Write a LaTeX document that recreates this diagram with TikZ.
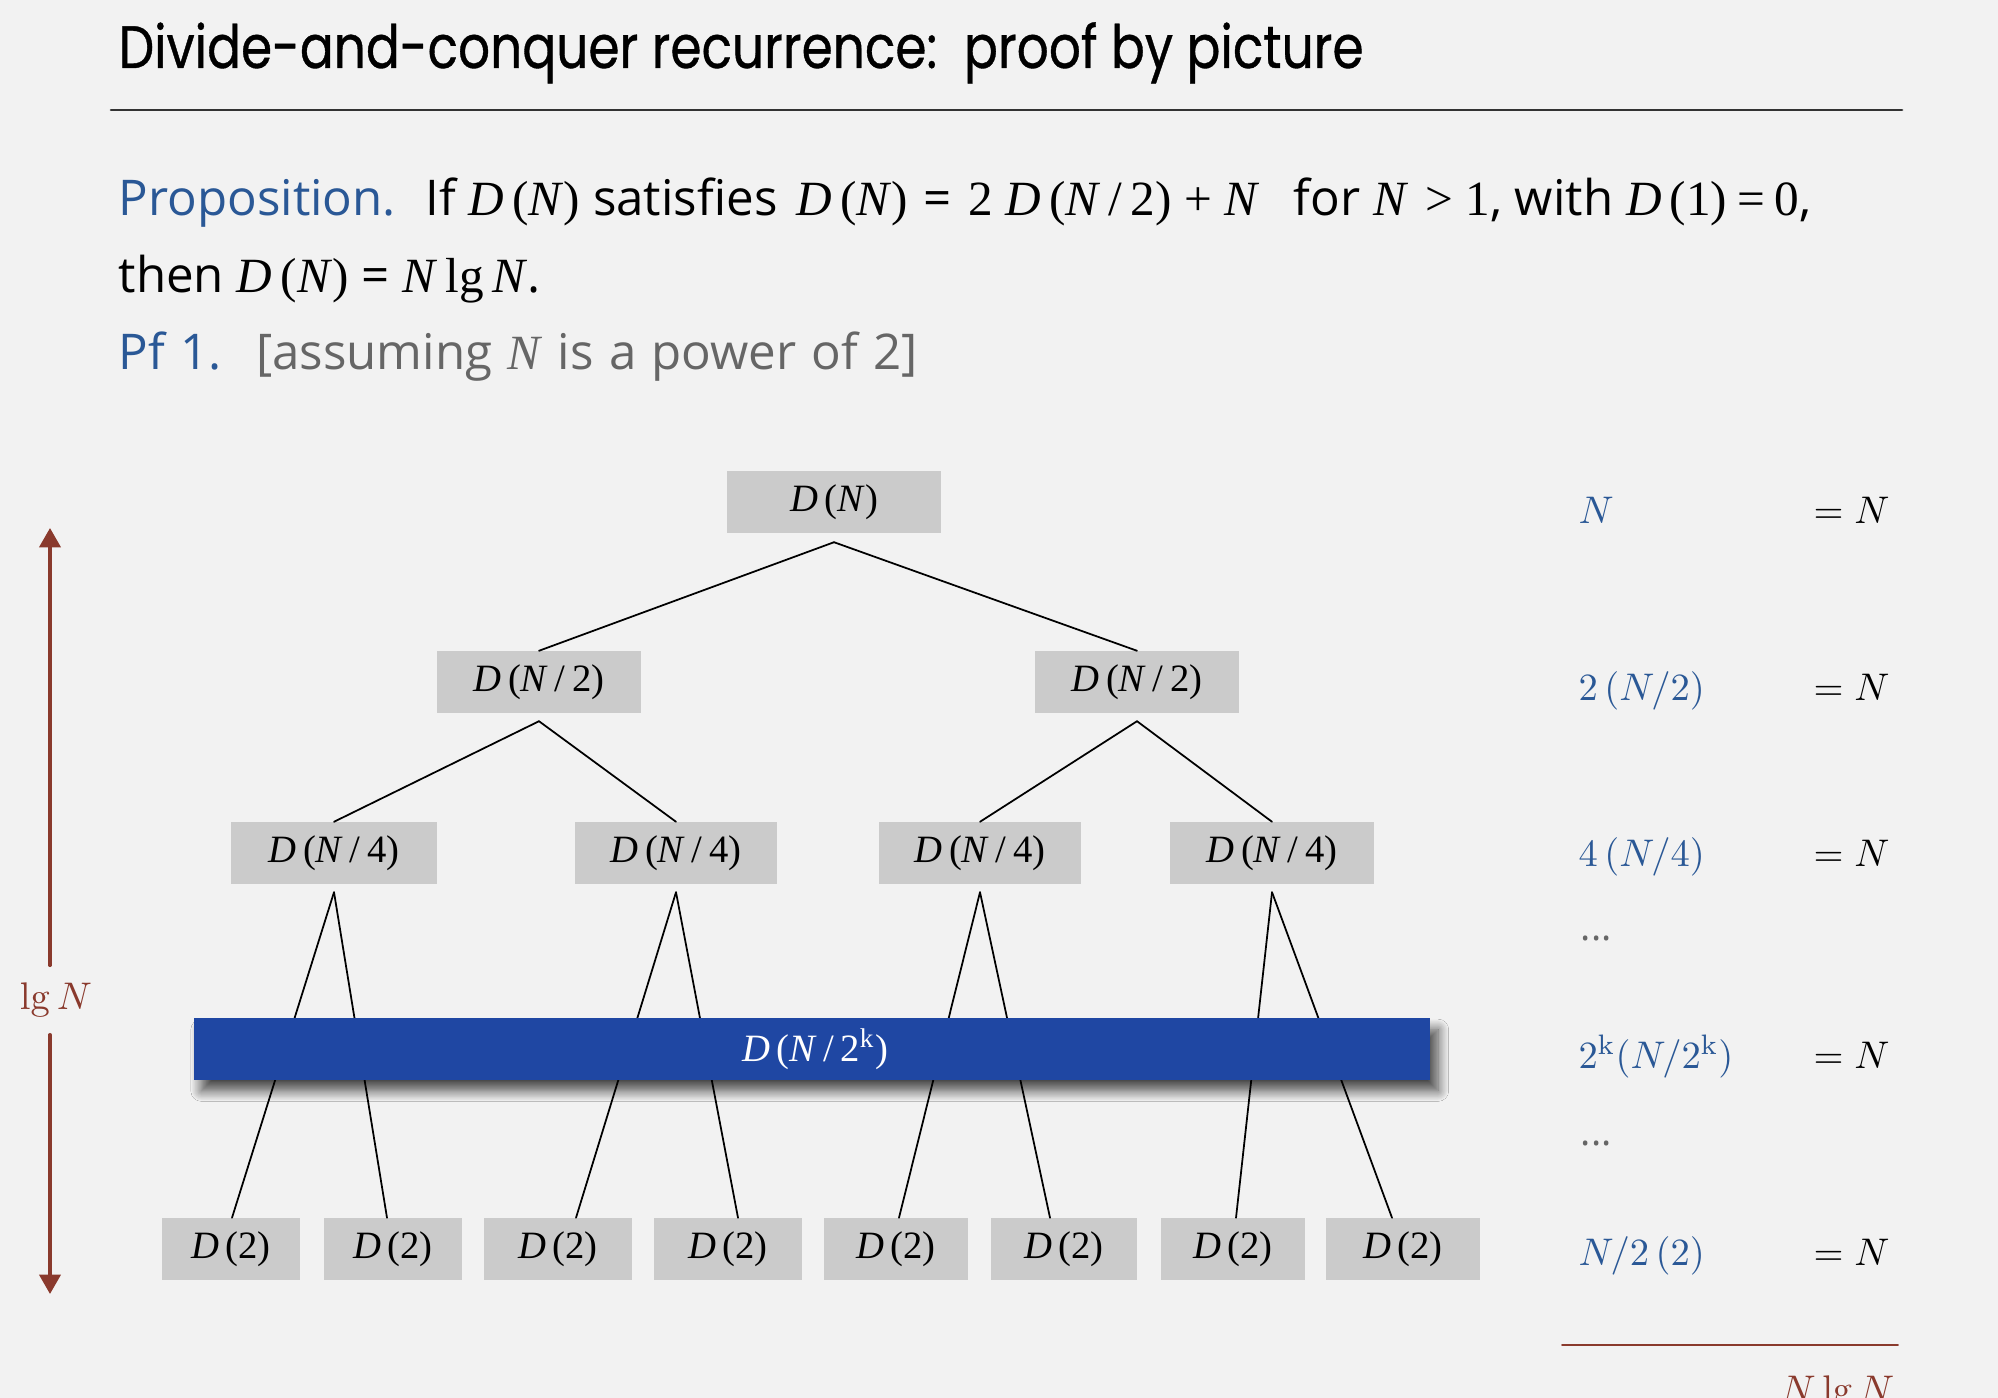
\documentclass[tikz,border=0pt]{standalone}
\usepackage[no-math]{fontspec}
\setmainfont{Open Sans}
\newfontfamily\titlefont[FakeStretch=0.84,FakeBold=0.6]{Poppins}
\newfontfamily\tms{Liberation Serif}
\usetikzlibrary{calc,arrows.meta,shadows.blur}

\definecolor{bgcol}{HTML}{F2F2F2}
\definecolor{boxgray}{HTML}{CBCBCB}
\definecolor{barblue}{HTML}{1F47A3}
\definecolor{textblue}{HTML}{2A5896}
\definecolor{brownred}{HTML}{8A3A2D}
\definecolor{textgray}{HTML}{666666}

\newcommand{\tv}[1]{\textit{#1}}
\newcommand{\Dof}[1]{{\tms\tv{D}\,(#1)}}
\newcommand{\vm}[1]{{\tms\fontsize{14}{16}\selectfont #1}}

\tikzset{
	callbox/.style={fill=boxgray, minimum height=0.61cm, inner sep=0pt, font=\fontsize{11}{13}\selectfont\tms},
	textline/.style={anchor=base west, inner sep=0pt, font=\fontsize{14}{16}\selectfont},
	sumterm/.style={anchor=base west, inner sep=0pt, text=textblue, font=\fontsize{11}{13}\selectfont},
	sumeq/.style={anchor=base west, inner sep=0pt, font=\fontsize{10.5}{13}\selectfont},
	edge/.style={line width=0.5pt},
}

\begin{document}
\begin{tikzpicture}[x=0.01cm, y=-0.01cm, line join=round, line cap=round]
	\useasboundingbox (0,0) rectangle (1998,1398);
	\fill[bgcol] (0,0) rectangle (1998,1398);

	% title and statement
	\node[anchor=base west, inner sep=0pt, font=\titlefont\fontsize{17}{20}\selectfont] (title) at (118,68) {Divide-and-conquer recurrence:\ \ proof by picture};
	\draw[line width=0.75pt, black!80] (111,110) -- (1902,110);
	\node[textline] (prop) at (118,216) {\textcolor{textblue}{Proposition.}\hspace{0.6em}If \vm{\Dof{\tv{N}}} satisfies};
	\node[textline] (recur) at (796,216) {\vm{\Dof{\tv{N}}}\hspace{0.3em}=\hspace{0.35em}\vm{2\hspace{0.25em}\Dof{\tv{N}\,/\,2}\hspace{0.25em}+\hspace{0.25em}\tv{N}}};
	\node[textline] (cond) at (1293,216) {for \vm{\tv{N}\hspace{0.35em}>\hspace{0.25em}1}, with \vm{\Dof{1}\hspace{0.2em}=\hspace{0.2em}0},};
	\node[textline] (then) at (118,293) {then \Dof{\tv{N}} = {\tms\tv{N}\,lg\,\tv{N}}.};
	\node[textline] (pf) at (118,370) {\spaceskip=0.31em\relax\textcolor{textblue}{Pf 1.}\hspace{0.7em}\textcolor{textgray}{[assuming {\tms\tv{N}} is a power of 2]}};

	% recursion tree
	\node[callbox, minimum width=2.13cm] (root) at (834,502) {\Dof{\tv{N}}};
	\node[callbox, minimum width=2.03cm] (half1) at (539,682) {\Dof{\tv{N}\,/\,2}};
	\node[callbox, minimum width=2.03cm] (half2) at (1137,682) {\Dof{\tv{N}\,/\,2}};
	\node[callbox, minimum width=2.06cm] (quar1) at (334,853) {\Dof{\tv{N}\,/\,4}};
	\node[callbox, minimum width=2.02cm] (quar2) at (676,853) {\Dof{\tv{N}\,/\,4}};
	\node[callbox, minimum width=2.01cm] (quar3) at (980,853) {\Dof{\tv{N}\,/\,4}};
	\node[callbox, minimum width=2.03cm] (quar4) at (1272,853) {\Dof{\tv{N}\,/\,4}};
	\node[callbox, minimum width=1.38cm] (leaf1) at (231,1249) {\Dof{2}};
	\node[callbox, minimum width=1.38cm] (leaf2) at (393,1249) {\Dof{2}};
	\node[callbox, minimum width=1.47cm] (leaf3) at (558,1249) {\Dof{2}};
	\node[callbox, minimum width=1.47cm] (leaf4) at (728,1249) {\Dof{2}};
	\node[callbox, minimum width=1.44cm] (leaf5) at (896,1249) {\Dof{2}};
	\node[callbox, minimum width=1.45cm] (leaf6) at (1064,1249) {\Dof{2}};
	\node[callbox, minimum width=1.44cm] (leaf7) at (1233,1249) {\Dof{2}};
	\node[callbox, minimum width=1.53cm] (leaf8) at (1403,1249) {\Dof{2}};

	\draw[edge] ($(root.south)+(0,9)$) -- (half1.north);
	\draw[edge] ($(root.south)+(0,9)$) -- (half2.north);
	\draw[edge] ($(half1.south)+(0,8)$) -- (quar1.north);
	\draw[edge] ($(half1.south)+(0,8)$) -- (quar2.north);
	\draw[edge] ($(half2.south)+(0,8)$) -- (quar3.north);
	\draw[edge] ($(half2.south)+(0,8)$) -- (quar4.north);
	\draw[edge] ($(quar1.south)+(0,8)$) -- ($(leaf1.north)+(1,0)$);
	\draw[edge] ($(quar1.south)+(0,8)$) -- ($(leaf2.north)+(-6,0)$);
	\draw[edge] ($(quar2.south)+(0,8)$) -- ($(leaf3.north)+(18,0)$);
	\draw[edge] ($(quar2.south)+(0,8)$) -- ($(leaf4.north)+(10,0)$);
	\draw[edge] ($(quar3.south)+(0,8)$) -- ($(leaf5.north)+(3,0)$);
	\draw[edge] ($(quar3.south)+(0,8)$) -- ($(leaf6.north)+(-14,0)$);
	\draw[edge] ($(quar4.south)+(0,8)$) -- ($(leaf7.north)+(3,0)$);
	\draw[edge] ($(quar4.south)+(0,8)$) -- ($(leaf8.north)+(-11,0)$);

	% level k
	\node[fill=barblue, text=white, minimum width=12.36cm, minimum height=0.61cm, inner sep=0pt, font=\fontsize{11}{13}\selectfont\tms,
		blur shadow={shadow xshift=2.2pt, shadow yshift=-3.2pt, shadow blur radius=3pt, shadow blur steps=12, shadow opacity=70}] (levelk) at (812,1049) {\hspace{0.06cm}\Dof{\tv{N}\,/\,2\textsuperscript{k}}};

	% height
	\coordinate (htop) at (50,528);
	\coordinate (hbot) at (50,1294);
	\node[text=brownred, minimum height=0.68cm, inner sep=0pt, font=\fontsize{11}{13}\selectfont] (height) at (56,1000) {$\lg N$};
	\draw[brownred, line width=1pt, -{Triangle[length=5.5pt,width=6pt]}] (height.north -| htop) -- (htop);
	\draw[brownred, line width=1pt, -{Triangle[length=5.5pt,width=6pt]}] (height.south -| hbot) -- (hbot);

	% cost per level
	\node[sumterm] (sum1) at (1578,524) {$N$};
	\node[sumterm] (sum2) at (1578,701) {$2\,(N/2)$};
	\node[sumterm] (sum3) at (1578,866) {$4\,(N/4)$};
	\node[sumterm, text=textgray] (dots1) at (1580,940) {...};
	\node[sumterm] (sum5) at (1578,1068) {$2^{\mathrm{k}}(N/2^{\mathrm{k}})$};
	\node[sumterm, text=textgray] (dots2) at (1580,1145) {...};
	\node[sumterm] (sum7) at (1578,1265) {$N/2\,(2)$};
	\node[sumeq] (eq1) at (1813,524) {$= N$};
	\node[sumeq] (eq2) at (1813,701) {$= N$};
	\node[sumeq] (eq3) at (1813,866) {$= N$};
	\node[sumeq] (eq5) at (1813,1068) {$= N$};
	\node[sumeq] (eq7) at (1813,1265) {$= N$};
	\draw[brownred, line width=0.5pt] (1562,1345) -- (1898,1345);
	\node[sumeq, text=brownred] (total) at (1780,1402) {$N \lg N$};
\end{tikzpicture}
\end{document}
